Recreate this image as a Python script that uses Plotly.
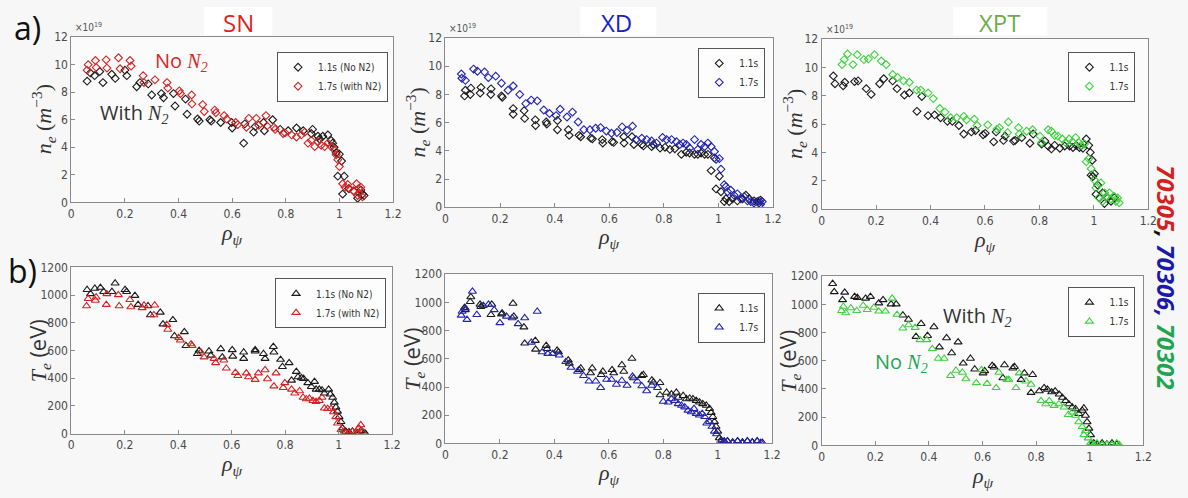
import plotly.graph_objects as go

W, H = 1188, 498

# ---------------- DATA ----------------
# Panel a) SN : n_e (1e19 m^-3)
sn_ne_t11_x = [0.059,0.071,0.087,0.106,0.118,0.151,0.164,0.200,0.207,0.244,0.256,0.287,0.300,0.336,0.344,0.381,0.387,0.426,0.432,0.471,0.477,0.517,0.522,0.557,0.598,0.600,0.643,0.647,0.680,0.686,0.717,0.720,0.751,0.779,0.809,0.840,0.865,0.895,0.900,0.920,0.926,0.938,0.957,0.969,0.975,0.980,0.988,0.994,1.000,1.008,1.012,1.018,1.034,1.055,1.068,1.080,1.092,1.086]
sn_ne_t11_y = [8.8,9.4,9.2,9.5,8.7,9.3,9.0,9.6,9.2,8.4,8.7,8.6,7.8,7.9,7.6,7.9,7.0,7.5,6.4,6.05,5.9,6.0,5.9,5.8,5.8,5.4,4.3,5.7,5.1,5.5,5.8,5.2,6.0,5.3,5.2,5.4,5.2,5.0,5.3,4.8,4.6,4.8,4.9,4.5,4.3,4.0,3.6,1.9,3.5,3.0,0.6,1.9,1.0,0.8,0.3,0.9,0.5,0.6]
sn_ne_t17_x = [0.059,0.063,0.090,0.093,0.130,0.133,0.176,0.182,0.219,0.223,0.268,0.271,0.312,0.357,0.360,0.403,0.407,0.449,0.450,0.490,0.496,0.535,0.539,0.570,0.580,0.613,0.621,0.653,0.662,0.690,0.699,0.726,0.730,0.756,0.760,0.790,0.797,0.822,0.840,0.858,0.871,0.883,0.895,0.908,0.920,0.932,0.945,0.957,0.969,0.982,0.988,0.994,1.000,1.012,1.021,1.031,1.037,1.052,1.064,1.071,1.074,1.080,1.086,1.068]
sn_ne_t17_y = [9.6,10.0,10.3,9.8,10.35,9.75,10.5,9.7,10.3,9.9,9.2,8.7,8.9,8.7,8.3,8.1,7.9,7.8,7.15,7.1,6.6,6.7,6.5,6.3,6.05,5.8,5.65,5.45,6.1,6.1,5.6,6.3,5.55,5.45,5.3,5.0,5.05,4.9,4.75,4.9,5.1,4.3,4.5,4.05,4.4,4.15,4.05,4.3,4.05,3.8,3.45,3.1,2.6,1.35,1.1,1.3,1.0,0.85,1.35,1.0,0.65,1.1,0.4,0.5]

# Panel a) XD : n_e
xd_ne_t11_x = [0.070,0.073,0.091,0.093,0.127,0.130,0.166,0.167,0.205,0.208,0.248,0.248,0.288,0.290,0.329,0.330,0.369,0.371,0.410,0.410,0.450,0.453,0.489,0.495,0.532,0.538,0.574,0.576,0.610,0.616,0.653,0.654,0.683,0.690,0.719,0.725,0.755,0.761,0.786,0.804,0.822,0.840,0.864,0.882,0.894,0.912,0.924,0.936,0.949,0.961,0.973,0.985,0.991,1.003,1.009,1.021,1.027,1.039,1.051,1.069,1.088,1.100,1.112,1.130,1.142,1.154,1.148]
xd_ne_t11_y = [7.9,8.3,8.0,8.45,8.1,8.5,8.0,8.4,7.9,7.8,7.0,6.6,6.85,6.3,6.2,5.8,6.05,5.9,6.15,5.5,5.5,5.1,5.1,5.0,4.9,4.85,4.8,4.55,4.65,4.6,5.0,4.55,5.0,4.45,4.45,4.35,4.3,4.45,4.2,4.25,4.1,4.15,3.75,3.9,3.85,3.75,3.75,3.85,3.75,3.75,2.6,3.5,1.3,2.2,1.1,0.4,0.6,0.4,0.6,0.45,0.6,0.85,0.6,0.45,0.4,0.5,0.3]
xd_ne_t17_x = [0.058,0.060,0.073,0.103,0.117,0.143,0.157,0.184,0.205,0.229,0.248,0.272,0.294,0.314,0.336,0.360,0.381,0.405,0.420,0.445,0.465,0.486,0.507,0.529,0.550,0.568,0.589,0.608,0.628,0.647,0.665,0.685,0.698,0.719,0.737,0.755,0.773,0.795,0.810,0.828,0.846,0.858,0.870,0.882,0.894,0.912,0.924,0.936,0.949,0.961,0.973,0.985,0.991,1.003,1.009,1.021,1.027,1.033,1.045,1.057,1.069,1.082,1.094,1.106,1.118,1.130,1.148,1.154,1.160]
xd_ne_t17_y = [9.45,9.15,9.0,9.8,9.65,9.6,9.2,9.3,8.8,8.3,8.6,8.0,7.35,7.6,7.55,6.9,6.65,6.5,6.95,6.4,6.75,6.05,5.5,5.5,5.6,5.65,5.4,5.25,5.3,5.7,5.45,5.75,4.8,4.9,4.8,4.7,4.55,4.95,4.8,4.8,4.65,4.45,4.55,4.45,4.2,4.8,4.1,4.45,4.3,4.55,4.3,3.95,3.4,3.45,2.7,1.6,1.45,1.1,1.2,0.85,0.95,0.6,0.75,0.45,0.4,0.3,0.45,0.2,0.4]

# Panel a) XPT : n_e
xpt_ne_t11_x = [0.043,0.049,0.079,0.085,0.121,0.134,0.164,0.182,0.213,0.228,0.261,0.277,0.304,0.322,0.350,0.368,0.391,0.415,0.437,0.462,0.480,0.504,0.522,0.550,0.565,0.593,0.601,0.632,0.641,0.668,0.674,0.705,0.711,0.735,0.765,0.777,0.808,0.820,0.832,0.844,0.856,0.875,0.893,0.911,0.923,0.935,0.947,0.960,0.972,0.981,0.987,0.994,0.990,0.996,1.002,1.008,1.014,1.020,1.032,1.039,1.051,1.063,1.075]
xpt_ne_t11_y = [9.4,8.85,8.7,8.95,9.0,9.05,8.5,8.1,8.85,9.2,9.05,8.5,8.05,8.2,6.9,7.95,6.6,6.65,6.45,6.2,6.2,5.9,5.3,5.45,5.55,5.25,5.35,4.75,5.45,4.85,5.15,4.8,4.85,5.05,4.65,5.3,4.6,4.8,4.45,4.25,4.5,4.3,4.45,4.45,4.35,4.5,4.35,4.3,4.95,4.5,4.0,3.45,2.4,2.3,2.5,1.05,1.7,0.8,1.15,0.4,0.8,0.55,0.8]
xpt_ne_t17_x = [0.075,0.083,0.095,0.115,0.131,0.155,0.172,0.194,0.219,0.237,0.261,0.279,0.301,0.322,0.349,0.364,0.391,0.410,0.434,0.453,0.474,0.496,0.522,0.532,0.561,0.571,0.610,0.644,0.653,0.683,0.686,0.723,0.726,0.753,0.775,0.802,0.808,0.832,0.844,0.856,0.868,0.884,0.896,0.909,0.921,0.933,0.945,0.953,0.966,0.972,0.981,0.990,1.002,1.008,1.018,1.026,1.032,1.039,1.047,1.057,1.063,1.075,1.081,1.093,1.087]
xpt_ne_t17_y = [10.2,10.55,10.95,10.2,10.9,10.55,10.6,10.9,10.45,10.2,9.5,9.3,9.05,8.95,8.4,8.4,8.2,7.8,7.1,6.85,6.45,6.45,6.55,6.3,6.35,5.9,5.95,5.65,5.75,5.4,6.15,5.75,5.3,5.5,5.6,5.15,4.7,5.6,5.5,5.2,5.15,4.95,4.7,4.95,4.75,5.05,4.7,4.5,4.6,3.35,3.55,2.85,2.05,1.5,0.8,1.85,0.55,1.15,0.9,1.15,0.7,0.9,0.55,0.45,0.8]

# Panel b) SN : T_e (eV)
sn_te_t11_x = [0.059,0.072,0.088,0.109,0.121,0.152,0.164,0.201,0.207,0.238,0.250,0.287,0.296,0.333,0.343,0.380,0.386,0.423,0.429,0.472,0.478,0.515,0.522,0.559,0.565,0.602,0.604,0.645,0.645,0.688,0.688,0.719,0.725,0.756,0.758,0.783,0.790,0.815,0.824,0.842,0.848,0.861,0.869,0.885,0.898,0.910,0.916,0.928,0.938,0.947,0.963,0.969,0.978,0.984,0.990,0.996,1.002,1.009,1.015,1.027,1.039,1.052,1.070,1.083,1.095,1.101]
sn_te_t11_y = [1039,1009,1048,1055,1025,1025,1086,1039,1025,997,932,922,857,876,791,822,705,735,635,577,600,595,565,612,553,605,558,588,542,605,595,577,542,628,588,535,483,511,385,448,409,402,397,367,339,376,320,320,315,292,320,285,261,226,191,161,121,86,40,16,12,16,5,21,5,0]
sn_te_t17_x = [0.057,0.063,0.090,0.093,0.131,0.133,0.176,0.179,0.219,0.223,0.265,0.272,0.309,0.312,0.357,0.361,0.402,0.408,0.448,0.452,0.485,0.497,0.534,0.540,0.571,0.580,0.614,0.623,0.655,0.663,0.688,0.700,0.725,0.734,0.758,0.766,0.793,0.799,0.824,0.836,0.854,0.867,0.879,0.891,0.904,0.916,0.928,0.938,0.947,0.959,0.972,0.981,0.990,0.996,1.009,1.021,1.037,1.052,1.064,1.076,1.083,1.089,1.074]
sn_te_t17_y = [922,974,962,985,932,1009,1002,922,967,915,908,927,857,927,787,752,693,675,647,635,588,553,542,511,530,472,441,418,437,409,390,437,460,395,343,437,332,367,320,292,308,261,250,254,238,231,238,261,184,180,180,156,121,75,28,16,5,16,12,40,63,16,5]

# Panel b) XD : T_e
xd_te_t11_x = [0.070,0.073,0.091,0.093,0.127,0.130,0.167,0.170,0.206,0.208,0.248,0.251,0.288,0.291,0.330,0.331,0.370,0.373,0.410,0.415,0.451,0.455,0.491,0.497,0.533,0.539,0.572,0.578,0.612,0.618,0.648,0.655,0.685,0.691,0.721,0.727,0.758,0.764,0.788,0.788,0.812,0.830,0.848,0.855,0.873,0.885,0.897,0.909,0.921,0.933,0.945,0.958,0.970,0.976,0.982,0.988,0.994,1.000,1.006,1.012,1.024,1.036,1.055,1.073,1.091,1.109,1.127,1.145,1.164]
xd_te_t11_y = [963,947,1005,1039,986,970,913,986,917,924,993,901,825,710,729,667,694,671,660,648,591,568,522,533,499,533,487,510,522,499,556,510,602,464,480,487,448,434,430,343,361,349,361,326,338,315,320,315,303,292,280,269,246,218,189,154,120,85,39,23,16,16,9,16,9,16,9,16,5]
xd_te_t17_x = [0.058,0.061,0.073,0.079,0.099,0.115,0.139,0.158,0.179,0.200,0.224,0.245,0.267,0.291,0.315,0.337,0.355,0.376,0.394,0.418,0.442,0.461,0.485,0.507,0.527,0.552,0.570,0.592,0.610,0.628,0.648,0.667,0.687,0.705,0.721,0.739,0.758,0.779,0.800,0.818,0.830,0.842,0.855,0.867,0.879,0.891,0.903,0.913,0.921,0.933,0.943,0.952,0.960,0.970,0.979,0.988,0.996,1.012,1.024,1.036,1.055,1.073,1.091,1.109,1.127,1.145,1.158]
xd_te_t17_y = [908,936,959,878,1078,913,977,986,947,855,901,890,848,890,717,936,648,637,637,625,579,538,510,480,441,441,395,453,453,418,446,411,476,441,407,372,411,395,297,292,315,303,280,269,257,234,223,246,211,200,211,189,143,154,120,85,67,16,9,16,5,16,5,16,9,16,5]

# Panel b) XPT : T_e
xpt_te_t11_x = [0.041,0.047,0.078,0.086,0.123,0.133,0.164,0.182,0.213,0.229,0.259,0.278,0.303,0.324,0.352,0.371,0.395,0.419,0.439,0.466,0.485,0.509,0.528,0.555,0.571,0.602,0.608,0.636,0.643,0.676,0.682,0.713,0.719,0.744,0.756,0.781,0.787,0.812,0.830,0.842,0.858,0.871,0.886,0.898,0.910,0.922,0.935,0.947,0.959,0.972,0.978,0.984,0.990,0.997,1.003,1.007,1.015,1.027,1.046,1.064,1.083,1.101]
xpt_te_t11_y = [1147,1089,1032,1085,1055,1048,1043,1055,1009,1032,1002,1002,923,893,771,863,778,840,697,762,655,732,582,616,540,512,528,565,554,478,570,547,558,466,512,374,501,385,408,397,378,385,362,339,316,293,270,258,224,247,263,212,166,120,74,5,16,9,16,9,16,9]
xpt_te_t17_x = [0.074,0.081,0.090,0.109,0.131,0.155,0.170,0.195,0.213,0.238,0.263,0.281,0.303,0.324,0.349,0.367,0.392,0.413,0.435,0.457,0.481,0.501,0.525,0.538,0.577,0.596,0.617,0.651,0.661,0.691,0.698,0.725,0.737,0.762,0.781,0.818,0.836,0.849,0.867,0.885,0.904,0.920,0.935,0.947,0.959,0.972,0.978,0.984,0.994,1.003,1.015,1.027,1.046,1.064,1.083,1.101,1.110]
xpt_te_t17_y = [955,985,939,974,955,992,962,978,951,951,1043,928,831,854,835,748,748,685,616,616,494,531,517,471,443,535,438,408,517,466,466,408,512,455,432,316,293,316,282,293,270,217,235,212,166,132,74,102,51,16,5,16,5,9,5,16,5]

x_ticks = [0, 0.2, 0.4, 0.6, 0.8, 1, 1.2]
x_tick_labels = ["0", "0.2", "0.4", "0.6", "0.8", "1", "1.2"]
ne_ticks = [0, 2, 4, 6, 8, 10, 12]
te_ticks = [0, 200, 400, 600, 800, 1000, 1200]

panel_titles = ["SN", "XD", "XPT"]
legend_labels_sn = ["1.1s (No N2)", "1.7s (with N2)"]
legend_labels = ["1.1s", "1.7s"]

# ---------------- STYLE ----------------
BLACK = "#1a1a1a"
RED = "#d42323"
BLUE = "#2323b4"
GREEN = "#3fd23f"
TITLE_RED = "#e01f1f"
TITLE_BLUE = "#1d1dcc"
TITLE_GREEN = "#6fac4a"
TXT_GREEN = "#1fa552"
COND = "DejaVu Sans Condensed, Liberation Sans Narrow, DejaVu Sans, sans-serif"
TICK_FONT = dict(family=COND, size=12, color="#4a4a4a")
SERIF = "Liberation Serif, DejaVu Serif, serif"
SANS = "Open Sans, Liberation Sans, sans-serif"

def fx(px):
    return px / W

def fy(py):
    return 1 - py / H

def ann(px, py, text, font, **kw):
    d = dict(x=fx(px), y=fy(py), xref="paper", yref="paper", showarrow=False,
             xanchor="center", yanchor="middle", text=text, font=font)
    d.update(kw)
    return d

# panel boxes in pixels: (left, right, top, bottom)
boxes = [
    (69, 394, 31, 201),
    (447, 778, 32, 206),
    (827, 1157, 33, 208),
    (69, 393, 268, 439),
    (447, 777, 275, 449),
    (827, 1152, 277, 451),
]
xlab_offsets = [33, 32, 33, 32, 32, 33]

panels = [
    (sn_ne_t11_x, sn_ne_t11_y, sn_ne_t17_x, sn_ne_t17_y, RED, "diamond-open", legend_labels_sn),
    (xd_ne_t11_x, xd_ne_t11_y, xd_ne_t17_x, xd_ne_t17_y, BLUE, "diamond-open", legend_labels),
    (xpt_ne_t11_x, xpt_ne_t11_y, xpt_ne_t17_x, xpt_ne_t17_y, GREEN, "diamond-open", legend_labels),
    (sn_te_t11_x, sn_te_t11_y, sn_te_t17_x, sn_te_t17_y, RED, "triangle-up-open", legend_labels_sn),
    (xd_te_t11_x, xd_te_t11_y, xd_te_t17_x, xd_te_t17_y, BLUE, "triangle-up-open", legend_labels),
    (xpt_te_t11_x, xpt_te_t11_y, xpt_te_t17_x, xpt_te_t17_y, GREEN, "triangle-up-open", legend_labels),
]

fig = go.Figure()
layout = dict(
    width=W, height=H,
    margin=dict(l=0, r=0, t=0, b=0),
    paper_bgcolor="#f7f7f7",
    plot_bgcolor="#fbfbfb",
    showlegend=True,
    hovermode=False,
)

# legend boxes in pixels: (right, top)
legend_pos = [(389, 46), (770, 42), (1144, 46), (387, 279), (770, 294), (1144, 288)]

annotations = []
shapes = []

for i, (box, pdata) in enumerate(zip(boxes, panels)):
    n = i + 1
    xa = "x" if n == 1 else f"x{n}"
    ya = "y" if n == 1 else f"y{n}"
    lg = "legend" if n == 1 else f"legend{n}"
    x11, y11, x17, y17, col, sym, labels = pdata
    size = 6 if "diamond" in sym else 7
    fig.add_trace(go.Scatter(
        x=x11, y=y11, mode="markers", name=labels[0],
        marker=dict(symbol=sym, size=size, color=BLACK, line=dict(width=1.1, color=BLACK)),
        xaxis=xa, yaxis=ya, legend=lg,
    ))
    fig.add_trace(go.Scatter(
        x=x17, y=y17, mode="markers", name=labels[1],
        marker=dict(symbol=sym, size=size, color=col, line=dict(width=1.1, color=col)),
        xaxis=xa, yaxis=ya, legend=lg,
    ))
    l, r, t, b = box
    is_ne = i < 3
    axis_common = dict(
        showline=True, linecolor="#8a8a8a", linewidth=1, mirror=True,
        ticks="inside", ticklen=4, tickcolor="#8a8a8a",
        showgrid=False, zeroline=False, tickfont=TICK_FONT,
    )
    layout["xaxis" if n == 1 else f"xaxis{n}"] = dict(
        domain=[fx(l), fx(r)], anchor=ya, range=[0, 1.2],
        tickvals=x_ticks, ticktext=x_tick_labels, **axis_common,
    )
    layout["yaxis" if n == 1 else f"yaxis{n}"] = dict(
        domain=[fy(b), fy(t)], anchor=xa,
        range=[0, 12] if is_ne else [0, 1200],
        tickvals=ne_ticks if is_ne else te_ticks,
        **axis_common,
    )
    rx, ry = legend_pos[i]
    layout[lg] = dict(
        x=fx(rx), y=fy(ry), xanchor="right", yanchor="top",
        xref="paper", yref="paper",
        bgcolor="#fdfdfd", bordercolor="#555555", borderwidth=1,
        font=dict(family=COND, size=10, color="#333"),
        itemwidth=30, tracegroupgap=0, itemsizing="trace",
    )
    # axis titles
    cx = (l + r) / 2
    cy = (t + b) / 2
    annotations.append(ann(cx, b + xlab_offsets[i], "<i>ρ<sub>ψ</sub></i>",
                           dict(family=SERIF, size=22, color="#333")))
    ylab_x = l - 28 if i < 3 else l - 34
    if is_ne:
        ytxt = "<i>n<sub>e</sub></i> (<i>m</i><sup>−3</sup>)"
    else:
        ytxt = f"<i>T<sub>e</sub></i> <span style='font-family:{SANS}'>(eV)</span>"
    annotations.append(ann(ylab_x, cy, ytxt, dict(family=SERIF, size=22, color="#333"),
                           textangle=-90))
    if is_ne:
        annotations.append(ann(l + 2, t - 2, "×10<sup>19</sup>",
                               dict(family=COND, size=10, color="#555"),
                               xanchor="left", yanchor="bottom"))

# panel titles with white boxes
title_specs = [("SN", 238, TITLE_RED, 203, 272), ("XD", 620, TITLE_BLUE, 583, 660), ("XPT", 1007, TITLE_GREEN, 960, 1055)]
for txt, cx, col, x0, x1 in title_specs:
    shapes.append(dict(type="rect", xref="paper", yref="paper",
                       x0=fx(x0), x1=fx(x1), y0=fy(29), y1=fy(0),
                       fillcolor="white", line=dict(width=0), layer="below"))
    annotations.append(ann(cx, 16, txt, dict(family=SANS, size=24, color=col)))

# a), b)
annotations.append(ann(25, 21, "a)", dict(family=SANS, size=32, color="#111")))
annotations.append(ann(20, 271, "b)", dict(family=SANS, size=32, color="#111")))

# in-panel annotations
n2 = f"<i><span style='font-family:{SERIF}'>N<sub>2</sub></span></i>"
annotations += [
    ann(180, 56, "No " + n2, dict(family=SANS, size=20, color=TITLE_RED)),
    ann(132, 109, "With " + n2, dict(family=SANS, size=20, color="#333")),
    ann(984, 318, "With " + n2, dict(family=SANS, size=20, color="#333")),
    ann(908, 365, "No " + n2, dict(family=SANS, size=20, color=TXT_GREEN)),
]

# rotated shot numbers on the right
annotations.append(ann(
    1176, 278,
    "<b><i><span style='color:#d42020'>70305</span><span style='color:#111'>, </span>"
    "<span style='color:#1a1aaa'>70306, </span><span style='color:#1fa552'>70302</span></i></b>",
    dict(family=SANS, size=24), textangle=90,
))

layout["annotations"] = annotations
layout["shapes"] = shapes
fig.update_layout(**layout)
fig.write_html("out.html")
